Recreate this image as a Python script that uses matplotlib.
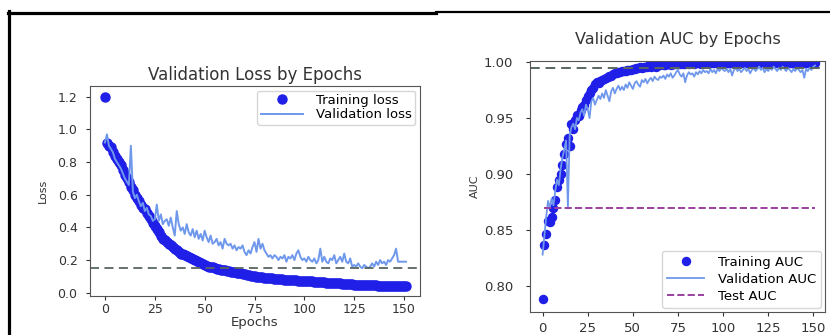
import matplotlib
matplotlib.use("Agg")
import matplotlib.pyplot as plt
from matplotlib.lines import Line2D
import numpy as np

# ---------------- data ----------------
epochs = list(range(0, 152))

train_loss = [1.20, 0.92, 0.90, 0.89, 0.86, 0.84, 0.82, 0.80, 0.78, 0.75,
              0.72, 0.70, 0.68, 0.65, 0.63, 0.60, 0.58, 0.56, 0.54, 0.52,
              0.51, 0.49, 0.47, 0.45, 0.43, 0.41, 0.39, 0.37, 0.35, 0.33,
              0.32, 0.31, 0.30, 0.29, 0.28, 0.27, 0.26, 0.25, 0.24, 0.235,
              0.23, 0.225, 0.22, 0.21, 0.205, 0.20, 0.195, 0.19, 0.18, 0.175,
              0.17, 0.165, 0.16, 0.158, 0.155, 0.15, 0.148, 0.145, 0.142, 0.14,
              0.137, 0.135, 0.132, 0.13, 0.127, 0.125, 0.122, 0.12, 0.118, 0.115,
              0.112, 0.11, 0.108, 0.105, 0.102, 0.10, 0.099, 0.097, 0.096, 0.094,
              0.092, 0.091, 0.09, 0.089, 0.088, 0.086, 0.085, 0.084, 0.083, 0.082,
              0.08, 0.079, 0.078, 0.078, 0.077, 0.076, 0.075, 0.074, 0.074, 0.073,
              0.072, 0.071, 0.070, 0.069, 0.069, 0.068, 0.067, 0.066, 0.065, 0.064,
              0.063, 0.062, 0.062, 0.061, 0.06, 0.059, 0.058, 0.058, 0.057, 0.056,
              0.055, 0.054, 0.053, 0.052, 0.051, 0.05, 0.05, 0.049, 0.049, 0.048,
              0.048, 0.047, 0.047, 0.046, 0.046, 0.045, 0.045, 0.044, 0.044, 0.043,
              0.043, 0.042, 0.042, 0.042, 0.041, 0.041, 0.041, 0.04, 0.04, 0.04,
              0.04, 0.04]

val_loss = [0.92, 0.97, 0.90, 0.88, 0.86, 0.82, 0.80, 0.78, 0.76, 0.73,
            0.70, 0.68, 0.66, 0.90, 0.62, 0.58, 0.60, 0.56, 0.53, 0.55,
            0.50, 0.52, 0.48, 0.47, 0.44, 0.45, 0.54, 0.44, 0.48, 0.42,
            0.44, 0.45, 0.41, 0.46, 0.40, 0.35, 0.50, 0.42, 0.38, 0.40,
            0.36, 0.42, 0.37, 0.35, 0.39, 0.34, 0.38, 0.33, 0.36, 0.32,
            0.38, 0.34, 0.31, 0.35, 0.30, 0.31, 0.33, 0.29, 0.31, 0.27,
            0.33, 0.30, 0.29, 0.30, 0.27, 0.29, 0.26, 0.28, 0.27, 0.29,
            0.25, 0.23, 0.26, 0.24, 0.28, 0.31, 0.25, 0.33, 0.27, 0.30,
            0.26, 0.24, 0.22, 0.23, 0.21, 0.23, 0.22, 0.20, 0.22, 0.21,
            0.23, 0.19, 0.22, 0.21, 0.23, 0.20, 0.24, 0.26, 0.22, 0.20,
            0.21, 0.19, 0.22, 0.20, 0.19, 0.21, 0.18, 0.20, 0.27, 0.19,
            0.22, 0.19, 0.18, 0.21, 0.20, 0.23, 0.18, 0.20, 0.22, 0.19,
            0.24, 0.19, 0.18, 0.21, 0.16, 0.17, 0.16, 0.18, 0.16, 0.15,
            0.17, 0.16, 0.15, 0.16, 0.18, 0.16, 0.19, 0.17, 0.20, 0.18,
            0.19, 0.17, 0.20, 0.19, 0.21, 0.23, 0.27, 0.19, 0.19, 0.19,
            0.19, 0.19]

loss_ref = 0.15

train_auc = [0.788, 0.837, 0.846, 0.858, 0.857, 0.862, 0.870, 0.877, 0.888, 0.895,
             0.900, 0.908, 0.918, 0.927, 0.932, 0.925, 0.945, 0.940, 0.948, 0.953,
             0.952, 0.957, 0.960, 0.962, 0.966, 0.970, 0.972, 0.975, 0.977, 0.980,
             0.982, 0.981, 0.983, 0.984, 0.985, 0.986, 0.987, 0.988, 0.988, 0.989,
             0.990, 0.990, 0.991, 0.991, 0.992, 0.992, 0.992, 0.993, 0.993, 0.993,
             0.994, 0.994, 0.995, 0.995, 0.996, 0.995, 0.996, 0.996, 0.996, 0.997,
             0.996, 0.997, 0.997, 0.996, 0.997, 0.997, 0.998, 0.997, 0.997, 0.998,
             0.998, 0.997, 0.998, 0.998, 0.998, 0.998, 0.998, 0.999, 0.998, 0.998,
             0.999, 0.998, 0.999, 0.999, 0.998, 0.999, 0.999, 0.999, 0.998, 0.999,
             0.999, 0.999, 0.999, 0.999, 0.999, 0.999, 0.999, 0.999, 0.999, 0.999,
             0.999, 0.999, 0.999, 0.999, 0.999, 0.999, 0.999, 0.999, 0.999, 0.999,
             0.999, 0.999, 0.999, 0.999, 0.999, 0.999, 0.999, 0.999, 0.999, 0.999,
             0.999, 0.999, 0.999, 0.999, 0.999, 0.999, 0.999, 0.999, 0.999, 0.999,
             0.999, 0.999, 0.999, 0.999, 0.999, 0.999, 0.999, 0.999, 0.999, 0.999,
             0.999, 0.999, 0.999, 0.999, 0.999, 0.999, 0.999, 0.999, 0.999, 0.999,
             0.999, 0.999]

val_auc = [0.828, 0.845, 0.862, 0.876, 0.870, 0.878, 0.872, 0.885, 0.895, 0.890,
           0.905, 0.915, 0.922, 0.930, 0.870, 0.935, 0.942, 0.945, 0.940, 0.950,
           0.948, 0.955, 0.958, 0.952, 0.962, 0.958, 0.950, 0.965, 0.968, 0.962,
           0.966, 0.970, 0.967, 0.972, 0.968, 0.975, 0.970, 0.965, 0.974, 0.977,
           0.972, 0.976, 0.979, 0.975, 0.978, 0.975, 0.980, 0.977, 0.982, 0.979,
           0.976, 0.981, 0.983, 0.980, 0.978, 0.984, 0.982, 0.985, 0.981, 0.984,
           0.986, 0.983, 0.987, 0.985, 0.984, 0.987, 0.986, 0.988, 0.985, 0.989,
           0.987, 0.990, 0.986, 0.988, 0.991, 0.993, 0.989, 0.987, 0.990, 0.982,
           0.988, 0.991, 0.989, 0.990, 0.987, 0.991, 0.989, 0.992, 0.990, 0.993,
           0.991, 0.992, 0.990, 0.994, 0.991, 0.993, 0.990, 0.994, 0.992, 0.995,
           0.993, 0.992, 0.994, 0.991, 0.994, 0.988, 0.993, 0.995, 0.992, 0.994,
           0.991, 0.993, 0.995, 0.992, 0.994, 0.990, 0.993, 0.995, 0.992, 0.994,
           0.996, 0.993, 0.995, 0.991, 0.994, 0.992, 0.995, 0.993, 0.996, 0.994,
           0.992, 0.995, 0.993, 0.996, 0.994, 0.992, 0.995, 0.993, 0.991, 0.994,
           0.992, 0.995, 0.993, 0.991, 0.993, 0.986, 0.994, 0.992, 0.995, 0.993,
           0.996, 0.997]

auc_ref = 0.995
test_auc = 0.87

xticks = [0, 25, 50, 75, 100, 125, 150]
loss_yticks = [0.0, 0.2, 0.4, 0.6, 0.8, 1.0, 1.2]
auc_yticks = [0.80, 0.85, 0.90, 0.95, 1.00]

# ---------------- style ----------------
plt.rcParams['font.family'] = ['DejaVu Sans']
TXT = '#333333'
DOT = '#1f1fe8'
LINE = '#6f98ec'
REFC = '#5a6660'

W, H = 830, 335
fig = plt.figure(figsize=(W / 100, H / 100), dpi=100)

def px_axes(x0, y0, x1, y1):
    return fig.add_axes([x0 / W, 1 - y1 / H, (x1 - x0) / W, (y1 - y0) / H])

# ---------- left panel ----------
ax1 = px_axes(90, 86, 420, 296)
ax1.plot(epochs, train_loss, 'o', color=DOT, markersize=6.5, label='Training loss')
ax1.plot(epochs, val_loss, '-', color=LINE, linewidth=1.4, label='Validation loss')
ax1.axhline(loss_ref, color=REFC, linestyle='--', linewidth=1.3, dashes=(5, 3))
ax1.set_xticks(xticks)
ax1.set_yticks(loss_yticks)
ax1.set_yticklabels([f'{v:.1f}' for v in loss_yticks])
ax1.set_xlim(-7.5, 158)
ax1.set_ylim(-0.02, 1.266)
ax1.set_title('Validation Loss by Epochs', fontsize=12, color=TXT, pad=4)
ax1.set_xlabel('Epochs', fontsize=9.5, color=TXT, labelpad=0)
ax1.tick_params(labelsize=9, colors=TXT, length=3)
ax1.tick_params(axis='x', pad=2)
ax1.tick_params(axis='y', pad=6)
ax1.set_ylabel('Loss', fontsize=8, color=TXT, labelpad=7)
ax1.legend(loc='upper right', fontsize=9.5, frameon=True, borderpad=0.25,
           labelspacing=0.1, handlelength=3.2, handletextpad=1.0,
           borderaxespad=0.35)

# ---------- right panel ----------
ax2 = px_axes(530, 61, 825, 312)
ax2.plot(epochs, train_auc, 'o', color=DOT, markersize=5.8, label='Training AUC')
ax2.plot(epochs, val_auc, '-', color=LINE, linewidth=1.3, label='Validation AUC')
ax2.hlines(test_auc, epochs[1], epochs[-1], colors='#9a3fa0', linestyles='--',
           linewidth=1.4, label='Test AUC')
ax2.axhline(auc_ref, color=REFC, linestyle='--', linewidth=1.4, dashes=(5, 3))
ax2.set_xticks(xticks)
ax2.set_yticks(auc_yticks)
ax2.set_yticklabels([f'{v:.2f}' for v in auc_yticks])
ax2.set_xlim(-7.0, 156.5)
ax2.set_ylim(0.7767, 1.001)
ax2.set_title('Validation AUC by Epochs', fontsize=11.5, color=TXT, pad=12)
ax2.tick_params(labelsize=9.5, colors=TXT, length=3)
ax2.tick_params(axis='x', pad=4)
ax2.tick_params(axis='y', pad=9)
ax2.set_ylabel('AUC', fontsize=8, color=TXT, labelpad=3)
ax2.legend(loc='lower right', fontsize=9.5, frameon=True, borderpad=0.4,
           labelspacing=0.3, handlelength=2.8, handletextpad=1.0,
           borderaxespad=0.3)

for ax in (ax1, ax2):
    for s in ax.spines.values():
        s.set_color('#555555')

# ---------- page frame lines ----------
yt = 1 - 12.5 / H
fig.add_artist(Line2D([7.5 / W, 436 / W], [yt, yt], transform=fig.transFigure,
                      color='black', linewidth=2.3))
fig.add_artist(Line2D([436 / W, 1.0], [1 - 12 / H, 1 - 12 / H], transform=fig.transFigure,
                      color='black', linewidth=1.6))
fig.add_artist(Line2D([8.5 / W, 8.5 / W], [0, yt + 1.2 / H], transform=fig.transFigure,
                      color='black', linewidth=2.3))

fig.savefig('out.png', dpi=100)
